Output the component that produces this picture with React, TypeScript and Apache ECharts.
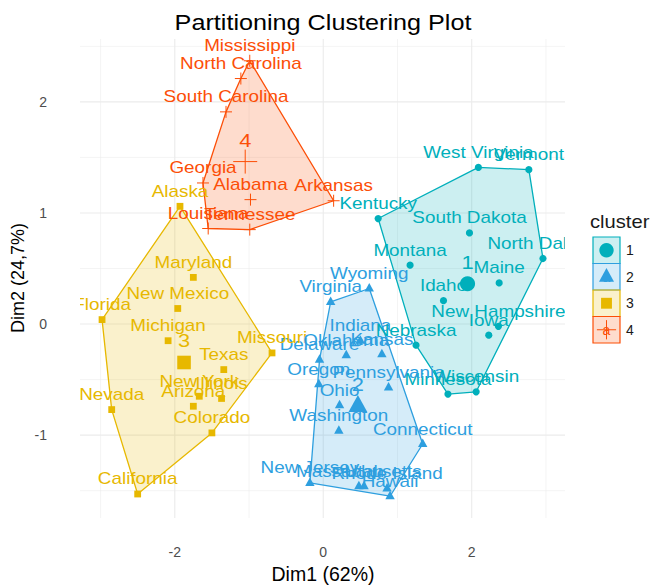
import React, { useEffect, useRef } from "react";
import * as echarts from "echarts";

const STATES = [
  "Alabama", "Alaska", "Arizona", "Arkansas", "California", "Colorado", "Connecticut", "Delaware",
  "Florida", "Georgia", "Hawaii", "Idaho", "Illinois", "Indiana", "Iowa", "Kansas", "Kentucky",
  "Louisiana", "Maine", "Maryland", "Massachusetts", "Michigan", "Minnesota", "Mississippi",
  "Missouri", "Montana", "Nebraska", "Nevada", "New Hampshire", "New Jersey", "New Mexico",
  "New York", "North Carolina", "North Dakota", "Ohio", "Oklahoma", "Oregon", "Pennsylvania",
  "Rhode Island", "South Carolina", "South Dakota", "Tennessee", "Texas", "Utah", "Vermont",
  "Virginia", "Washington", "West Virginia", "Wisconsin", "Wyoming",
];

const DIM1 = [
  -0.98, -1.93, -1.75, 0.14, -2.50, -1.50, 1.34, -0.05,
  -2.98, -1.62, 0.90, 1.62, -1.37, 0.50, 2.23, 0.79, 0.74,
  -1.55, 2.37, -1.75, 0.48, -2.09, 1.68, -0.99,
  -0.69, 1.17, 1.25, -2.85, 2.36, -0.18, -1.96,
  -1.67, -1.11, 2.96, 0.22, 0.31, -0.06, 0.88,
  0.86, -1.31, 1.97, -0.99, -1.34, 0.55, 2.77,
  0.10, 0.21, 2.09, 2.06, 0.62,
];

const DIM2 = [
  1.12, 1.06, -0.74, 1.11, -1.53, -0.98, -1.08, -0.32,
  0.04, 1.27, -1.55, 0.21, -0.67, -0.15, -0.10, -0.27, 0.95,
  0.86, 0.37, 0.42, -1.46, -0.15, -0.63, 2.37,
  -0.26, 0.53, -0.19, -0.77, -0.02, -1.43, 0.14,
  -0.65, 2.21, 0.59, -0.73, -0.28, -0.54, -0.57,
  -1.48, 1.91, 0.82, 0.85, -0.41, -1.46, 1.39,
  0.20, -0.96, 1.41, -0.61, 0.32,
];

const CLUSTER = [
  4, 3, 3, 4, 3, 3, 2, 2,
  3, 4, 2, 1, 3, 2, 1, 2, 1,
  4, 1, 3, 2, 3, 1, 4,
  3, 1, 1, 3, 1, 2, 3,
  3, 4, 1, 2, 2, 2, 2,
  2, 4, 1, 4, 3, 2, 1,
  2, 2, 1, 1, 2,
];

const CLUSTER_IDS = [1, 2, 3, 4];
const COLORS = ["#00AFBB", "#2E9FDF", "#E7B800", "#FC4E07"];
const FILLS = ["rgba(0,175,187,0.2)", "rgba(46,159,223,0.2)", "rgba(231,184,0,0.2)", "rgba(252,78,7,0.2)"];

const X_TICKS = [-2, 0, 2];
const Y_TICKS = [-1, 0, 1, 2];
const X_MINOR = [-3, -1, 1, 3];
const Y_MINOR = [-1.5, -0.5, 0.5, 1.5, 2.5];

const TITLE = "Partitioning Clustering Plot";
const X_TITLE = "Dim1 (62%)";
const Y_TITLE = "Dim2 (24,7%)";
const LEGEND_TITLE = "cluster";

const FONT = "'Liberation Sans', Arial, Helvetica, sans-serif";

type Pt = [number, number];

function convexHull(pts: Pt[]): Pt[] {
  const p = pts.slice().sort((a, b) => (a[0] === b[0] ? a[1] - b[1] : a[0] - b[0]));
  if (p.length < 3) return p;
  const cross = (o: Pt, a: Pt, b: Pt) => (a[0] - o[0]) * (b[1] - o[1]) - (a[1] - o[1]) * (b[0] - o[0]);
  const lower: Pt[] = [];
  for (const q of p) {
    while (lower.length >= 2 && cross(lower[lower.length - 2], lower[lower.length - 1], q) <= 0) lower.pop();
    lower.push(q);
  }
  const upper: Pt[] = [];
  for (let i = p.length - 1; i >= 0; i--) {
    const q = p[i];
    while (upper.length >= 2 && cross(upper[upper.length - 2], upper[upper.length - 1], q) <= 0) upper.pop();
    upper.push(q);
  }
  upper.pop();
  lower.pop();
  return lower.concat(upper);
}

function clusterPoints(c: number): Pt[] {
  const out: Pt[] = [];
  for (let i = 0; i < STATES.length; i++) if (CLUSTER[i] === c) out.push([DIM1[i], DIM2[i]]);
  return out;
}

function symbolFor(c: number, x: number, y: number, s: number, color: string): any {
  if (c === 1) {
    return { type: "circle", shape: { cx: x, cy: y, r: 3.6 * s }, style: { fill: color } };
  }
  if (c === 2) {
    return {
      type: "polygon",
      shape: { points: [[x, y - 5.4 * s], [x + 4.7 * s, y + 3.1 * s], [x - 4.7 * s, y + 3.1 * s]] },
      style: { fill: color },
    };
  }
  if (c === 3) {
    return { type: "rect", shape: { x: x - 3.4 * s, y: y - 3.4 * s, width: 6.8 * s, height: 6.8 * s }, style: { fill: color } };
  }
  return {
    type: "group",
    children: [
      { type: "line", shape: { x1: x - 6 * s, y1: y, x2: x + 6 * s, y2: y }, style: { stroke: color, lineWidth: 1 } },
      { type: "line", shape: { x1: x, y1: y - 6 * s, x2: x, y2: y + 6 * s }, style: { stroke: color, lineWidth: 1 } },
    ],
  };
}

export default function App() {
  const ref = useRef<HTMLDivElement>(null);

  useEffect(() => {
    document.body.style.margin = "0";
    if (!ref.current) return;
    const chart = echarts.init(ref.current, null, { renderer: "svg" });

    const hulls = CLUSTER_IDS.map((c) => convexHull(clusterPoints(c)));
    const centers = CLUSTER_IDS.map((c) => {
      const pts = clusterPoints(c);
      const mx = pts.reduce((s, p) => s + p[0], 0) / pts.length;
      const my = pts.reduce((s, p) => s + p[1], 0) / pts.length;
      return [mx, my, c];
    });

    const xMinD = Math.min(...DIM1), xMaxD = Math.max(...DIM1);
    const yMinD = Math.min(...DIM2), yMaxD = Math.max(...DIM2);
    const X_MIN = xMinD - 0.05 * (xMaxD - xMinD);
    const X_MAX = xMaxD + 0.05 * (xMaxD - xMinD);
    const Y_MIN = yMinD - 0.05 * (yMaxD - yMinD);
    const Y_MAX = yMaxD + 0.05 * (yMaxD - yMinD);

    const gridData: number[][] = [];
    X_TICKS.forEach((v) => gridData.push([v, 0, 0, 1]));
    X_MINOR.forEach((v) => gridData.push([v, 0, 0, 0]));
    Y_TICKS.forEach((v) => gridData.push([0, v, 1, 1]));
    Y_MINOR.forEach((v) => gridData.push([0, v, 1, 0]));

    const pointData = STATES.map((_, i) => [DIM1[i], DIM2[i], CLUSTER[i], i]);

    const legendGraphics: any[] = [
      {
        type: "text",
        x: 590,
        y: 222,
        scaleX: 1.12,
        style: { text: LEGEND_TITLE, fontSize: 18, fontFamily: FONT, fill: "#1a1a1a", align: "left", verticalAlign: "middle" },
      },
    ];
    CLUSTER_IDS.forEach((c, i) => {
      const y0 = 237 + i * 26.5;
      const cx = 606.5;
      const cy = y0 + 13.25;
      legendGraphics.push({
        type: "rect",
        shape: { x: 593, y: y0, width: 27, height: 26.5 },
        style: { fill: FILLS[i], stroke: COLORS[i], lineWidth: 1.2 },
      });
      legendGraphics.push(symbolFor(c, cx, cy, c === 1 ? 2 : 1.6, COLORS[i]));
      legendGraphics.push({
        type: "text",
        x: cx,
        y: cy,
        style: { text: "a", fontSize: 14, fontFamily: FONT, fill: COLORS[i], align: "center", verticalAlign: "middle" },
      });
      legendGraphics.push({
        type: "text",
        x: 626,
        y: cy,
        style: { text: String(c), fontSize: 14, fontFamily: FONT, fill: "#1a1a1a", align: "left", verticalAlign: "middle" },
      });
    });

    const option: any = {
      animation: false,
      backgroundColor: "#ffffff",
      grid: { left: 80, top: 39, width: 485, height: 479, containLabel: false, outerBoundsMode: "none" },
      xAxis: {
        type: "value",
        min: X_MIN,
        max: X_MAX,
        axisLine: { show: false },
        axisTick: { show: false },
        splitLine: { show: false },
        axisLabel: { customValues: X_TICKS, margin: 27, fontSize: 14, color: "#4d4d4d", fontFamily: FONT },
      },
      yAxis: {
        type: "value",
        min: Y_MIN,
        max: Y_MAX,
        axisLine: { show: false },
        axisTick: { show: false },
        splitLine: { show: false },
        axisLabel: { customValues: Y_TICKS, margin: 33, fontSize: 14, color: "#4d4d4d", fontFamily: FONT },
      },
      graphic: [
        {
          type: "text",
          x: 323,
          y: 22,
          scaleX: 1.12,
          style: { text: TITLE, fontSize: 22.5, fontFamily: FONT, fill: "#000", align: "center", verticalAlign: "middle" },
        },
        {
          type: "text",
          x: 323,
          y: 574,
          style: { text: X_TITLE, fontSize: 19.5, fontFamily: FONT, fill: "#000", align: "center", verticalAlign: "middle" },
        },
        {
          type: "text",
          x: 18,
          y: 278,
          rotation: Math.PI / 2,
          style: { text: Y_TITLE, fontSize: 18, fontFamily: FONT, fill: "#000", align: "center", verticalAlign: "middle" },
        },
        ...legendGraphics,
      ],
      series: [
        {
          type: "custom",
          silent: true,
          clip: true,
          data: gridData,
          renderItem: (params: any, api: any) => {
            const cs = params.coordSys;
            const kind = api.value(2);
            const major = api.value(3) === 1;
            const style = { stroke: "#ebebeb", lineWidth: major ? 1.1 : 0.55 };
            if (kind === 0) {
              const p = api.coord([api.value(0), 0]);
              return { type: "line", shape: { x1: p[0], y1: cs.y, x2: p[0], y2: cs.y + cs.height }, style };
            }
            const p = api.coord([0, api.value(1)]);
            return { type: "line", shape: { x1: cs.x, y1: p[1], x2: cs.x + cs.width, y2: p[1] }, style };
          },
        },
        {
          type: "custom",
          silent: true,
          clip: true,
          data: centers,
          renderItem: (params: any, api: any) => {
            const c = api.value(2);
            const hull = hulls[c - 1];
            return {
              type: "polygon",
              shape: { points: hull.map((p) => api.coord(p)) },
              style: { fill: FILLS[c - 1], stroke: COLORS[c - 1], lineWidth: 1.3, lineJoin: "round" },
            };
          },
        },
        {
          type: "custom",
          silent: true,
          clip: true,
          data: pointData,
          renderItem: (params: any, api: any) => {
            const c = api.value(2);
            const p = api.coord([api.value(0), api.value(1)]);
            return symbolFor(c, p[0], p[1], 1, COLORS[c - 1]);
          },
        },
        {
          type: "custom",
          silent: true,
          clip: true,
          data: pointData,
          renderItem: (params: any, api: any) => {
            const c = api.value(2);
            const i = api.value(3);
            const p = api.coord([api.value(0), api.value(1)]);
            return {
              type: "text",
              x: p[0],
              y: p[1] - 15,
              scaleX: 1.18,
              style: {
                text: STATES[i],
                fontSize: 16,
                fontFamily: FONT,
                fill: COLORS[c - 1],
                align: "center",
                verticalAlign: "middle",
              },
            };
          },
        },
        {
          type: "custom",
          silent: true,
          clip: true,
          data: centers,
          renderItem: (params: any, api: any) => {
            const c = api.value(2);
            const p = api.coord([api.value(0), api.value(1)]);
            const sym = symbolFor(c, p[0], p[1], c === 1 ? 2.1 : 2, COLORS[c - 1]);
            return {
              type: "group",
              children: [
                sym,
                {
                  type: "text",
                  x: p[0],
                  y: p[1] - 22,
                  scaleX: 1.15,
                  style: {
                    text: String(c),
                    fontSize: 19,
                    fontFamily: FONT,
                    fill: COLORS[c - 1],
                    align: "center",
                    verticalAlign: "middle",
                  },
                },
              ],
            };
          },
        },
      ],
    };

    chart.setOption(option);
    return () => {
      chart.dispose();
    };
  }, []);

  return <div ref={ref} style={{ width: 653, height: 585 }} />;
}
